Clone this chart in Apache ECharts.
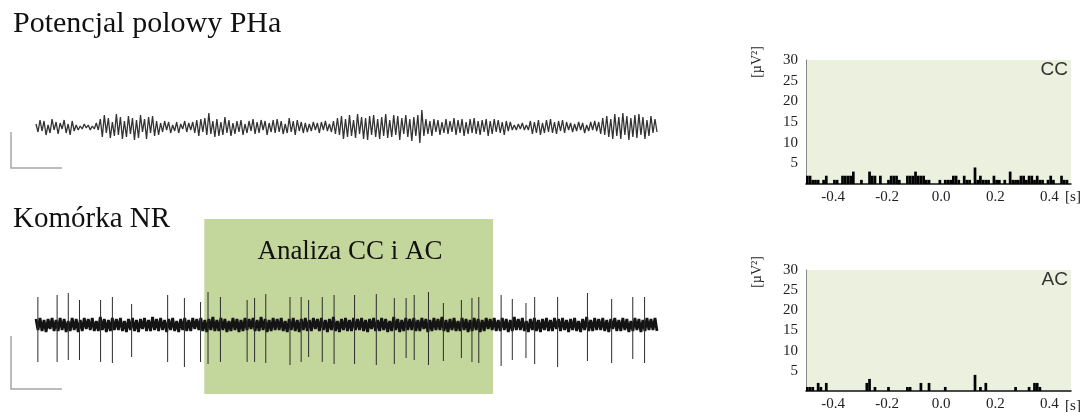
<!DOCTYPE html>
<html>
<head>
<meta charset="utf-8">
<title>PHa / NR</title>
<script src="https://cdn.jsdelivr.net/npm/echarts@6/dist/echarts.min.js"></script>
<style>
  html, body { margin: 0; padding: 0; background: #fff; }
  #main { width: 1082px; height: 412px; }
</style>
</head>
<body>
<div id="main"></div>
<script>
// ---- dane ----
// potencjał polowy PHa (próbki, ~2 px na próbkę)
const lfpTrace = [
  3,-5,7,-4,6,-8,2,-6,8,-3,
  5,-7,4,-2,7,-6,3,-8,6,-4,
  2,-3,1,-2,3,-1,2,-3,1,-2,
  4,-3,8,-10,12,-6,9,-11,5,-9,
  13,-8,10,-12,6,-10,11,-7,9,-13,
  7,-11,12,-5,8,-12,10,-6,11,-9,
  6,-8,4,-5,6,-3,5,-6,2,-4,
  5,-6,3,-2,6,-5,4,-3,5,-6,
  7,-9,8,-5,9,-8,14,-7,6,-10,
  8,-9,5,-8,10,-6,7,-9,4,-7,
  6,-5,7,-8,3,-6,6,-4,8,-7,
  5,-6,7,-3,6,-8,4,-5,7,-6,
  8,-5,6,-7,3,-6,9,-5,6,-8,
  7,-4,5,-6,4,-5,3,-4,5,-3,
  4,-6,5,-3,6,-4,3,-5,6,-7,
  9,-8,11,-12,8,-10,12,-9,7,-11,
  13,-7,10,-12,9,-13,11,-8,12,-10,
  8,-12,10,-9,13,-11,7,-10,12,-8,
  11,-13,9,-7,12,-10,8,-14,10,-9,
  12,-16,17,-9,8,-7,6,-9,8,-5,
  7,-8,5,-6,8,-7,6,-5,9,-8,
  7,-6,8,-9,5,-7,8,-6,9,-7,
  6,-8,7,-5,8,-9,6,-7,8,-5,
  7,-6,5,-8,6,-4,5,-3,2,-3,
  3,-2,4,-3,2,-3,6,-7,5,-6,
  7,-8,4,-6,7,-5,8,-6,5,-7,
  6,-4,7,-6,5,-3,4,-5,3,-4,
  5,-3,4,-6,2,-4,5,-3,6,-4,
  5,-7,9,-8,11,-10,8,-12,13,-9,
  10,-12,14,-8,11,-13,9,-10,12,-11,
  13,-8,10,-12,7,-9,11,-6,8,-5
];
// komórka NR - szum tła
const nrNoise = [
  6,-5,7,-6,5,-7,6,-4,7,-6,
  5,-6,7,-5,6,-7,4,-6,7,-5,
  6,-7,5,-6,7,-4,6,-5,7,-6,
  4,-6,8,-5,6,-7,5,-6,7,-5,
  6,-5,7,-6,4,-7,6,-5,7,-6,
  5,-7,6,-4,7,-6,5,-6,8,-5,
  6,-6,7,-5,5,-7,6,-5,7,-6,
  4,-7,6,-5,7,-6,5,-6,7,-4,
  6,-5,7,-6,5,-7,6,-5,8,-6,
  5,-6,7,-5,6,-7,4,-6,7,-5,
  6,-7,5,-6,7,-5,6,-4,7,-6,
  5,-6,8,-5,6,-7,5,-6,7,-5,
  6,-5,7,-6,4,-7,6,-5,7,-6,
  5,-7,6,-5,7,-6,5,-6,7,-4,
  6,-6,7,-5,5,-7,6,-5,8,-6,
  4,-7,6,-5,7,-6,5,-6,7,-5,
  6,-5,7,-6,5,-7,6,-4,7,-6,
  5,-6,7,-5,6,-7,4,-6,8,-5,
  6,-7,5,-6,7,-5,6,-5,7,-6,
  5,-6,7,-4,6,-7,5,-6,7,-5,
  6,-5,8,-6,5,-7,6,-5,7,-6,
  4,-6,7,-5,6,-7,5,-6,7,-5,
  6,-7,5,-6,7,-4,6,-5,7,-6,
  5,-6,7,-5,6,-7,5,-6,8,-5,
  6,-5,7,-6,4,-7,6,-5,7,-6,
  5,-7,6,-5,7,-6,5,-6,7,-4,
  6,-6,7,-5,5,-7,6,-5,7,-6,
  4,-7,6,-5,8,-6,5,-6,7,-5,
  6,-5,7,-6,5,-7,6,-4,7,-6,
  5,-6,7,-5,6,-7,4,-6,7,-5,
  6,-7,5,-6,7,-5,6,-5,7,-6
];
const traceSeconds = 10; // długość zapisu (s)
// potencjały czynnościowe NR: czas (s), amplituda w górę i w dół
const spikeTimes = [0.03,0.34,0.52,0.70,1.04,1.23,1.54,2.12,2.39,2.65,2.77,2.97,3.40,3.52,3.70,4.09,4.27,4.39,4.61,4.80,
  5.13,5.48,5.77,5.96,6.09,6.32,6.56,6.85,7.02,7.13,7.49,7.67,7.89,8.03,8.40,8.88,9.27,9.61,9.80];
const spikeUp = [28,30,32,25,25,28,21,30,27,23,33,28,25,27,31,28,28,25,28,30,
  30,31,27,27,30,33,22,25,27,28,30,26,22,28,28,32,26,28,28];
const spikeDown = [37,37,35,35,37,38,32,37,42,37,39,37,37,37,38,40,37,32,37,39,
  39,40,39,33,35,40,36,33,37,38,41,35,33,39,42,36,38,34,38];
// okno analizy CC i AC (s)
const analysisWindow = [2.71, 7.36];

// histogramy: przedziały 0.01 s od -0.5 s
const binStart = -0.5;
const binWidth = 0.01;
const ccBins = [
  2,2,1,1,1,0,1,2,0,0,
  1,1,0,2,2,2,2,3,0,0,
  1,0,0,3,2,2,0,2,0,0,
  1,2,2,2,1,0,0,2,2,2,
  3,2,2,2,1,1,0,0,0,1,
  0,1,1,1,2,2,1,0,2,1,
  1,0,4,1,2,1,1,1,0,2,
  1,1,0,1,0,3,1,1,1,2,
  2,1,2,2,1,2,1,1,0,1,
  2,1,0,0,2,1,1,0
];
const acBins = [
  1,1,1,0,2,1,0,2,0,0,
  0,0,0,0,0,0,0,0,0,0,
  0,0,2,3,0,1,0,0,0,0,
  1,0,0,0,0,0,0,1,1,0,
  0,0,2,0,0,2,0,0,0,0,
  0,1,0,0,0,0,0,0,0,0,
  0,0,4,0,1,0,2,0,0,0,
  0,0,0,0,0,0,0,1,0,0,
  0,0,1,0,2,2,1,0,0,0,
  0,0,0,0,0,0,0,0
];
const histXTicks = [-0.4, -0.2, 0.0, 0.2, 0.4];
const histYTicks = [5, 10, 15, 20, 25, 30];

const SERIF = "'Liberation Serif', 'DejaVu Serif', serif";
const SANS = "'Liberation Sans', Arial, sans-serif";

// osie histogramu (kategoria dla słupków + oś wartości dla opisów)
function histAxes(gridIndex) {
  const cats = ccBins.map((v, i) => (binStart + (i + 0.5) * binWidth).toFixed(3));
  return [
    { type: 'category', gridIndex: gridIndex, position: 'bottom', data: cats, show: false, boundaryGap: true },
    {
      type: 'value', gridIndex: gridIndex, position: 'bottom', min: -0.5, max: 0.48, interval: 0.1,
      axisLine: { show: true, onZero: false, lineStyle: { color: '#111', width: 1.5 } },
      axisTick: { show: false },
      splitLine: { show: false },
      axisLabel: {
        margin: 6, fontFamily: SERIF, fontSize: 15, color: '#222',
        showMinLabel: false, showMaxLabel: false,
        formatter: function (v) {
          const hit = histXTicks.find(t => Math.abs(t - v) < 1e-6);
          return hit === undefined ? '' : hit.toFixed(1);
        }
      }
    }
  ];
}
function histYAxis(gridIndex) {
  return {
    type: 'value', gridIndex: gridIndex, position: 'left', min: 0, max: 30, interval: 5,
    axisLine: { show: true, onZero: false, lineStyle: { color: '#888', width: 1 } },
    axisTick: { show: false },
    splitLine: { show: false },
    axisLabel: {
      margin: 8, fontFamily: SERIF, fontSize: 15, color: '#222',
      formatter: v => (histYTicks.indexOf(v) >= 0 ? String(v) : '')
    }
  };
}

const chart = echarts.init(document.getElementById('main'), null, { renderer: 'canvas' });

const option = {
  animation: false,
  backgroundColor: '#ffffff',
  grid: [
    { left: 36, width: 621, top: 97, height: 60 },                       // PHa
    { left: 36, width: 621, top: 219, height: 175 },                     // NR
    { left: 806, width: 265, top: 60, height: 124, show: true, backgroundColor: '#ebf1de', borderWidth: 0 }, // CC
    { left: 806, width: 265, top: 270, height: 123, show: true, backgroundColor: '#ebf1de', borderWidth: 0 } // AC
  ],
  xAxis: [
    { type: 'value', gridIndex: 0, min: 0, max: lfpTrace.length - 1, show: false },
    { type: 'value', gridIndex: 1, min: 0, max: traceSeconds, show: false },
    ...histAxes(2),
    ...histAxes(3)
  ],
  yAxis: [
    { type: 'value', gridIndex: 0, min: -30, max: 30, show: false },
    { type: 'value', gridIndex: 1, min: -69, max: 106, show: false },
    histYAxis(2),
    histYAxis(3)
  ],
  series: [
    {
      name: 'PHa', type: 'line', xAxisIndex: 0, yAxisIndex: 0, z: 3,
      symbol: 'none', lineStyle: { color: '#333', width: 1.3 },
      data: lfpTrace.map((v, i) => [i, v])
    },
    {
      // tło okna analizy
      name: 'okno', type: 'line', xAxisIndex: 1, yAxisIndex: 1, z: 1,
      symbol: 'none', data: [[analysisWindow[0], 0]], lineStyle: { opacity: 0 },
      markArea: {
        silent: true,
        itemStyle: { color: '#c3d69b', opacity: 1 },
        data: [[{ xAxis: analysisWindow[0] }, { xAxis: analysisWindow[1] }]]
      }
    },
    {
      name: 'NR', type: 'line', xAxisIndex: 1, yAxisIndex: 1, z: 3,
      symbol: 'none', lineStyle: { color: '#141414', width: 2.8 },
      data: nrNoise.map((v, i) => [i * traceSeconds / (nrNoise.length - 1), v])
    },
    {
      name: 'spikes', type: 'custom', xAxisIndex: 1, yAxisIndex: 1, z: 4,
      renderItem: function (params, api) {
        const top = api.coord([api.value(0), api.value(1)]);
        const bot = api.coord([api.value(0), -api.value(2)]);
        return {
          type: 'line',
          shape: { x1: top[0], y1: top[1], x2: bot[0], y2: bot[1] },
          style: { stroke: '#2b2b2b', lineWidth: 1 }
        };
      },
      data: spikeTimes.map((t, i) => [t, spikeUp[i], spikeDown[i]])
    },
    {
      name: 'CC', type: 'bar', xAxisIndex: 2, yAxisIndex: 2, z: 3,
      barCategoryGap: '0%', itemStyle: { color: '#000' },
      data: ccBins
    },
    {
      name: 'AC', type: 'bar', xAxisIndex: 4, yAxisIndex: 3, z: 3,
      barCategoryGap: '0%', itemStyle: { color: '#000' },
      data: acBins
    }
  ],
  graphic: [
    // tytuły
    { type: 'text', left: 13, top: 9, style: { text: 'Potencjal polowy PHa', font: '30px ' + SERIF, fill: '#111' } },
    { type: 'text', left: 13, top: 205, style: { text: 'Komórka NR', font: '29px ' + SERIF, fill: '#111' } },
    { type: 'text', x: 350, y: 252, z: 100, style: { text: 'Analiza CC i AC', font: '27px ' + SERIF, fill: '#111', align: 'center', verticalAlign: 'middle' } },
    // skale
    { type: 'polyline', shape: { points: [[11, 132], [11, 168], [62, 168]] }, style: { stroke: '#a6a6a6', lineWidth: 1.5, fill: null } },
    { type: 'polyline', shape: { points: [[11, 336], [11, 389], [62, 389]] }, style: { stroke: '#a6a6a6', lineWidth: 1.5, fill: null } },
    // opisy histogramów
    { type: 'text', x: 1068, y: 70, z: 100, style: { text: 'CC', font: '19px ' + SANS, fill: '#333', align: 'right', verticalAlign: 'middle' } },
    { type: 'text', x: 1068, y: 280, z: 100, style: { text: 'AC', font: '19px ' + SANS, fill: '#333', align: 'right', verticalAlign: 'middle' } },
    { type: 'text', x: 757, y: 62, rotation: Math.PI / 2, style: { text: '[µV²]', font: '14px ' + SERIF, fill: '#222', align: 'center', verticalAlign: 'middle' } },
    { type: 'text', x: 757, y: 272, rotation: Math.PI / 2, style: { text: '[µV²]', font: '14px ' + SERIF, fill: '#222', align: 'center', verticalAlign: 'middle' } },
    { type: 'text', x: 1073, y: 197, style: { text: '[s]', font: '15px ' + SERIF, fill: '#222', align: 'center', verticalAlign: 'middle' } },
    { type: 'text', x: 1073, y: 406, style: { text: '[s]', font: '15px ' + SERIF, fill: '#222', align: 'center', verticalAlign: 'middle' } }
  ]
};

chart.setOption(option);
</script>
</body>
</html>
